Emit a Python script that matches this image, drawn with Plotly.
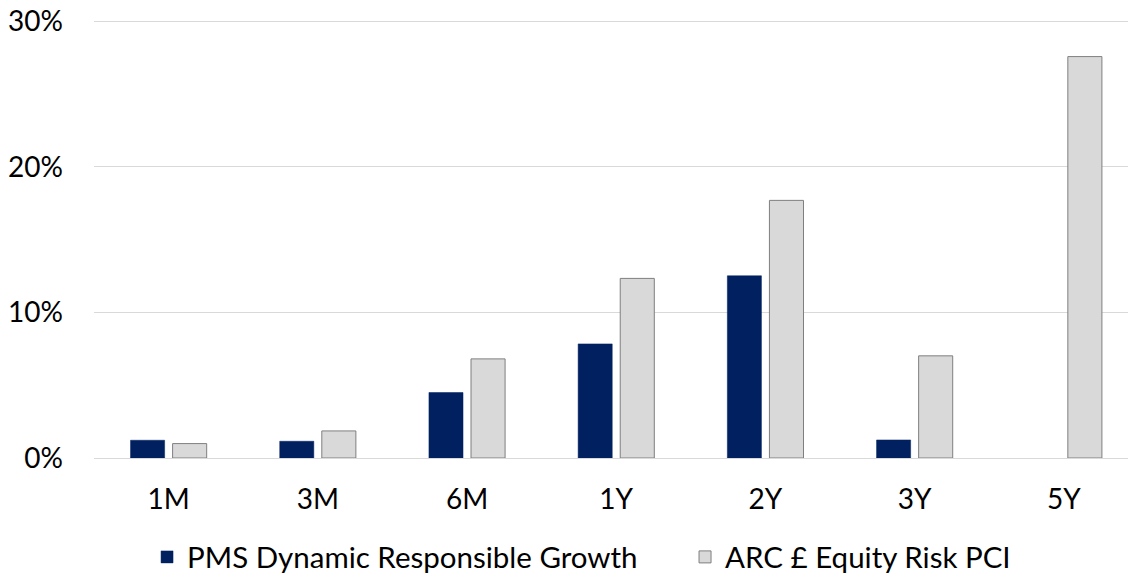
import plotly.graph_objects as go

categories = ["1M", "3M", "6M", "1Y", "2Y", "3Y", "5Y"]
pms_values = [1.22, 1.15, 4.50, 7.84, 12.52, 1.24, None]
arc_values = [0.99, 1.86, 6.81, 12.34, 17.70, 7.02, 27.58]
y_ticks = [0, 10, 20, 30]
y_tick_labels = ["0%", "10%", "20%", "30%"]

FONT = "Lato"

fig = go.Figure()
fig.add_trace(go.Bar(
    x=categories, y=pms_values, name="PMS Dynamic Responsible Growth",
    marker=dict(color="#002060", line=dict(color="#002060", width=0.5)),
    legend="legend",
))
fig.add_trace(go.Bar(
    x=categories, y=arc_values, name="ARC £ Equity Risk PCI",
    marker=dict(color="#D9D9D9", line=dict(color="#7F7F7F", width=1)),
    legend="legend2",
))

legend_common = dict(orientation="h", yanchor="middle", y=-0.225, xanchor="left",
                     font=dict(family=FONT, size=29.5), itemwidth=30,
                     bgcolor="rgba(0,0,0,0)")

fig.update_layout(
    width=1128, height=575,
    margin=dict(l=94, r=0, t=17.1, b=117, autoexpand=False),
    paper_bgcolor="white", plot_bgcolor="white",
    barmode="group", bargap=0.436, bargroupgap=0.19,
    font=dict(family=FONT, size=28, color="#000000"),
    showlegend=True,
    legend=dict(x=0.0513, **legend_common),
    legend2=dict(x=0.5716, **legend_common),
    xaxis=dict(range=[-0.5, 6.43], showgrid=False, showline=False, zeroline=False,
               ticks="", ticklabelstandoff=22, tickfont=dict(size=28), automargin=False),
    yaxis=dict(range=[0, 30.3], tickvals=y_ticks, ticktext=y_tick_labels,
               showgrid=True, gridcolor="#D9D9D9", gridwidth=1.3,
               zeroline=True, zerolinecolor="#D9D9D9", zerolinewidth=1.3,
               showline=False, ticks="", ticklabelstandoff=30, tickfont=dict(size=28),
               ticklabeloverflow="allow", automargin=False),
)

fig.write_html("out.html",
               config={"displayModeBar": False},
               post_script="document.body.style.margin='0';document.body.style.overflow='hidden';")
